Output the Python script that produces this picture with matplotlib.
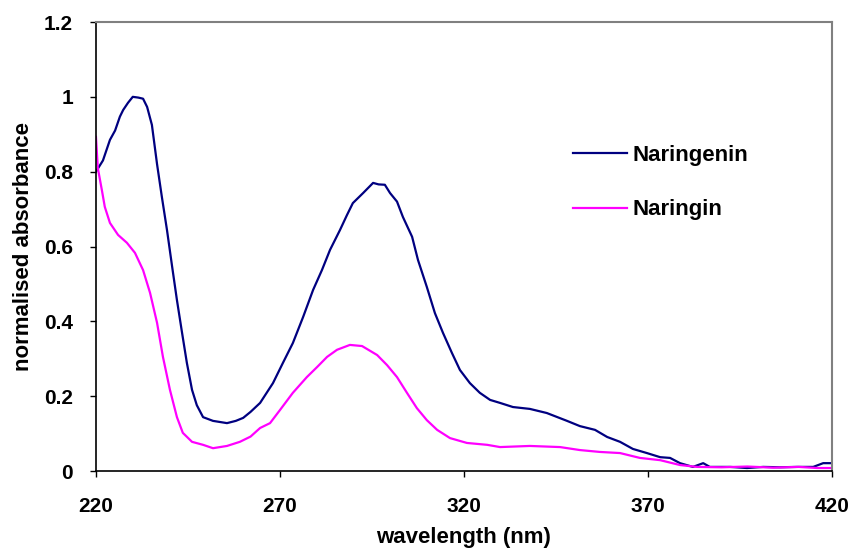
import matplotlib.pyplot as plt

plt.rcParams["font.family"] = ["Liberation Sans", "DejaVu Sans"]
plt.rcParams["font.weight"] = "bold"

# wavelength (nm) / normalised absorbance
naringenin_nm = [220, 221.9, 223.8, 225.2, 226.5, 227.4, 228.7, 230, 231.5, 232.8, 233.9,
                 235.2, 236.6, 237.9, 239.3, 240.7, 242, 243.4, 244.7, 246.1, 247.4,
                 249.1, 251.8, 255.6, 258, 260, 262, 264.6, 268.1, 270.8, 273.5, 276.3,
                 279, 281.4, 283.6, 286.3, 288.2, 289.8, 292.6, 295.3, 296.8, 298.5,
                 299.9, 301.8, 303.4, 305.9, 307.5, 309.9, 312.1, 314.3, 316.7, 318.9,
                 321.6, 324.3, 327.1, 329.8, 333.3, 337.9, 342.5, 348, 351.5, 355.6,
                 358.9, 362.4, 365.9, 369.7, 373.3, 376, 378.7, 382.2, 385, 386.8,
                 392.3, 396.9, 401.3, 405.9, 410.5, 414.9, 417.6, 420]
naringenin_abs = [0.80, 0.83, 0.885, 0.91, 0.947, 0.965, 0.984, 1.0, 0.998, 0.995, 0.973,
                  0.925, 0.82, 0.733, 0.644, 0.546, 0.457, 0.369, 0.289, 0.217, 0.176,
                  0.144, 0.134, 0.128, 0.134, 0.142, 0.158, 0.182, 0.235, 0.289, 0.342,
                  0.412, 0.484, 0.537, 0.591, 0.644, 0.684, 0.716, 0.743, 0.770, 0.766,
                  0.765, 0.743, 0.72, 0.679, 0.626, 0.564, 0.492, 0.422, 0.369, 0.316,
                  0.270, 0.235, 0.209, 0.19, 0.182, 0.171, 0.166, 0.155, 0.134, 0.120,
                  0.110, 0.091, 0.078, 0.059, 0.048, 0.037, 0.035, 0.021, 0.011, 0.021,
                  0.011, 0.011, 0.008, 0.011, 0.010, 0.011, 0.011, 0.021, 0.021]

naringin_nm = [220, 220.5, 221.6, 222.4, 223.8, 226, 228.4, 230.6, 232.8, 234.7, 236.6,
               238.2, 240.1, 242, 243.6, 246.1, 249.1, 251.8, 255.6, 259.1, 262, 264.6,
               267.3, 270, 273.5, 277.3, 280.1, 282.8, 285.5, 289, 292.3, 296.4, 299.1,
               301.8, 304.5, 307.2, 309.9, 312.7, 316.2, 320.8, 326.3, 329.8, 337.9,
               346.1, 351.5, 356.9, 362.4, 367.8, 373.3, 378.7, 383.3, 390, 397, 404,
               411, 416, 420]
naringin_abs = [0.893, 0.81, 0.751, 0.706, 0.663, 0.631, 0.610, 0.583, 0.537, 0.476, 0.396,
                0.305, 0.217, 0.144, 0.102, 0.078, 0.07, 0.061, 0.067, 0.078, 0.092, 0.115,
                0.128, 0.163, 0.209, 0.251, 0.278, 0.305, 0.324, 0.337, 0.334, 0.310, 0.283,
                0.251, 0.209, 0.168, 0.136, 0.11, 0.088, 0.075, 0.07, 0.064, 0.067,
                0.064, 0.056, 0.051, 0.048, 0.035, 0.029, 0.016, 0.011, 0.010, 0.012, 0.009,
                0.011, 0.008, 0.008]

x_ticks = [220, 270, 320, 370, 420]
y_ticks = [0, 0.2, 0.4, 0.6, 0.8, 1.0, 1.2]
y_tick_labels = ["0", "0.2", "0.4", "0.6", "0.8", "1", "1.2"]

fig = plt.figure(figsize=(8.53, 5.5), dpi=100)
ax = fig.add_axes([0.1125, 0.1436, 0.8629, 0.8164])

ax.plot(naringenin_nm, naringenin_abs, color="#000080", linewidth=1.6, label="Naringenin")
ax.plot(naringin_nm, naringin_abs, color="#FF00FF", linewidth=1.6, label="Naringin")

ax.set_xlim(220, 420)
ax.set_ylim(0, 1.2)
ax.set_xticks(x_ticks)
ax.set_yticks(y_ticks)
ax.set_yticklabels(y_tick_labels)
ax.tick_params(direction="out", length=4.5, width=1, labelsize=15)
ax.tick_params(axis="x", pad=14)
ax.tick_params(axis="y", pad=12)

for side in ("top", "right"):
    ax.spines[side].set_color("#808080")
    ax.spines[side].set_linewidth(1.5)
for side in ("left", "bottom"):
    ax.spines[side].set_color("black")
    ax.spines[side].set_linewidth(1.2)

ax.set_xlabel("wavelength (nm)", fontsize=16, fontweight="bold", labelpad=8)
ax.set_ylabel("normalised absorbance", fontsize=16, fontweight="bold", labelpad=7)

leg = ax.legend(loc="upper left", bbox_to_anchor=(0.648, 0.726), frameon=False,
                fontsize=16, handlelength=2.43, labelspacing=1.5, handletextpad=0.25,
                borderpad=0, borderaxespad=0)
for t in leg.get_texts():
    t.set_fontweight("bold")

fig.savefig("out.png", dpi=100)
